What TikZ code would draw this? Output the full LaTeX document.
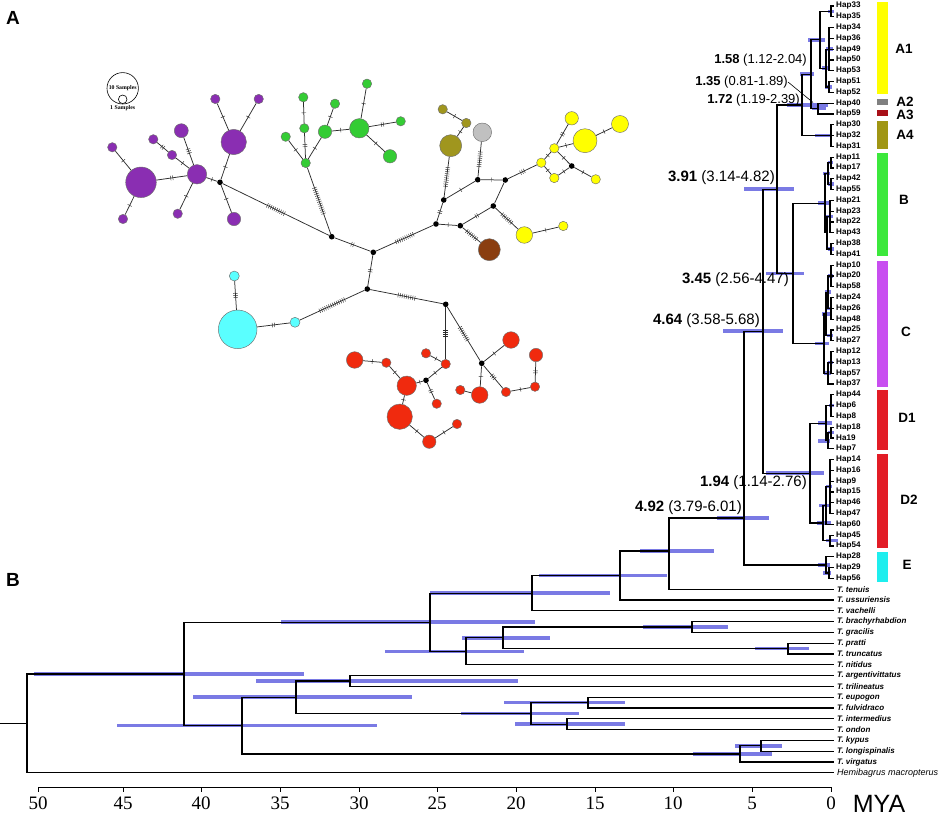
\documentclass[tikz,border=0pt]{standalone}
\usepackage{fontspec}
\setmainfont{Liberation Serif}
\newfontfamily\arial{Liberation Sans}
\usepackage{graphicx}
\usetikzlibrary{decorations.markings}
\definecolor{hpdblue}{RGB}{122,122,228}
\definecolor{npurple}{RGB}{138,46,178}
\definecolor{ngreen}{RGB}{52,204,52}
\definecolor{nolive}{RGB}{160,150,30}
\definecolor{ngray}{RGB}{192,192,192}
\definecolor{nbrown}{RGB}{138,62,16}
\definecolor{nyellow}{RGB}{255,255,0}
\definecolor{ncyan}{RGB}{90,255,255}
\definecolor{nred}{RGB}{240,42,14}
\definecolor{nborder}{RGB}{110,110,110}
\definecolor{nedgec}{RGB}{45,45,45}
\definecolor{kA1}{RGB}{255,255,0}
\definecolor{kA2}{RGB}{128,128,128}
\definecolor{kA3}{RGB}{168,16,24}
\definecolor{kA4}{RGB}{160,150,20}
\definecolor{kB}{RGB}{60,232,60}
\definecolor{kC}{RGB}{200,78,240}
\definecolor{kD}{RGB}{226,28,38}
\definecolor{kE}{RGB}{30,238,238}
\begin{document}
\begin{tikzpicture}[x=1pt,y=-1pt,
  br/.style={line width=1.2pt,black,line cap=rect},
  hpd/.style={line width=3.6pt,hpdblue},
  haptip/.style={anchor=west,inner xsep=3pt,inner ysep=0pt,font=\arial\bfseries\fontsize{8.1}{8.5}\selectfont},
  sptip/.style={anchor=west,inner xsep=4pt,inner ysep=0pt,font=\arial\bfseries\itshape\fontsize{8}{9}\selectfont},
  hpn/.style={circle,draw=nborder,line width=0.45pt,inner sep=0pt},
  mv/.style={circle,fill=black,inner sep=0pt,minimum size=5.6},
  nedge/.style={line width=0.75pt,nedgec},
  hatch/.style={postaction={decorate,decoration={markings,mark=at position 0.5 with {\foreach \k in {1,...,#1}{\draw[line width=0.45pt,nedgec] ({(\k-(#1+1)/2)*2.1},-2.3) -- ++(0,4.6);}}}}},
  dlabS/.style={anchor=east,inner sep=0pt,font=\arial\fontsize{13}{14}\selectfont},
  dlabL/.style={anchor=east,inner sep=0pt,font=\arial\fontsize{15}{16}\selectfont},
  cladelab/.style={inner sep=0pt,font=\arial\bfseries\fontsize{13.5}{14}\selectfont},
  panellab/.style={inner sep=0pt,font=\arial\bfseries\fontsize{19}{20}\selectfont},
  axlab/.style={inner sep=0pt,font=\fontsize{19}{20}\selectfont},
  legtxt/.style={inner sep=0pt,font=\bfseries\fontsize{5.8}{6}\selectfont}
]
\useasboundingbox (0,0) rectangle (941,819);

% ---------------- panel labels
\node[panellab] (pA) at (13,18) {A};
\node[panellab] (pB) at (13,580) {B};

% ---------------- tip labels
\foreach \nm [count=\i from 0] in {Hap33,Hap35,Hap34,Hap36,Hap49,Hap50,Hap53,Hap51,Hap52,Hap40,Hap59,Hap30,Hap32,Hap31,Hap11,Hap17,Hap42,Hap55,Hap21,Hap23,Hap22,Hap43,Hap38,Hap41,Hap10,Hap20,Hap58,Hap24,Hap26,Hap48,Hap25,Hap27,Hap12,Hap13,Hap57,Hap37,Hap44,Hap6,Hap8,Hap18,Ha19,Hap7,Hap14,Hap16,Hap9,Hap15,Hap46,Hap47,Hap60,Hap45,Hap54,Hap28,Hap29,Hap56}
  \node[haptip] (t\i) at (833,{6+10.8*\i}) {\nm};
\foreach \nm [count=\i from 54] in {tenuis,ussuriensis,vachelli,brachyrhabdion,gracilis,pratti,truncatus,nitidus,argentivittatus,trilineatus,eupogon,fulvidraco,intermedius,ondon,kypus,longispinalis,virgatus}
  \node[sptip] (t\i) at (833,{6+10.8*\i}) {T. \nm};
\node[sptip,font=\arial\itshape\fontsize{9}{10}\selectfont] (t71) at (833,772.8) {Hemibagrus macropterus};

% ---------------- internal nodes
\foreach \nm/\xx/\yy in {a33/831/11.4,aG1/829/49.2,aG2/829/87,aR/826/68.1,aA1/820/39.75,aA23/818/108.6,a811/811/74.2,aA4/831/135.6,a802/802/104.9,
 b1/831/162.6,b2/831/184.2,b12/828/173.4,b3/830/216.6,b4/831/249,b34/827/232.8,bB/825/203.1,
 c1/831/276,c2/831/308.4,c12/828/292.2,c3/831/335.4,c123/826/313.8,c4/831/362.4,c4b/828/373.2,cC/824/343.5,
 n793/793/273.3,n777/777/189.1,
 d1a/831/405.6,d1b/831/432.6,d1c/828/440.7,dD1/826/423.15,d2a/830/486.6,d2b/826/505.5,d2c/830/540.6,dD2/823/523.05,
 n810/810/473.1,n763/763/331.1,e1/829/573,eE/826/564.9,n744/744/518,n669/669/551,n620/620/575.5,n532/532/593.15,
 n692/692/627,n788/788/648.6,n503/503/637.8,n466/466/651.3,n430/430/622.25,
 n350/350/681,n588/588/702.6,n567/567/724.2,n531/531/713.4,n296/296/697.2,n761/761/745.8,n740/740/753.9,
 n242/242/725.55,n184/184/673.9,root/27/723.35,rstem/0/723.35}
  \coordinate (\nm) at (\xx,\yy);

% ---------------- HPD bars
\foreach \xa/\xb/\yy in {34/304/673.9,117/377/725.55,193/412/697.2,256/518/681,461/579/713.4,504/625/702.6,515/625/724.2,
 693/772/753.9,735/782/745.8,281/535/622.25,385/524/651.3,462/550/637.8,643/728/627,755/809/648.6,430/610/593.15,
 539/667/575.5,640/714/551,717/769/518,723/783/331.1,744/794/189.1,766/804/273.3,766/824/473.1,787/828/104.9,
 800/814/74.2,808/825/39.75,815/832/135.6,818/830/203.1,823/830/173.4,826/833/216.6,828/834/249,828/833/162.6,828/834/184.2,
 815/829/343.5,822/830/313.8,825/831/292.2,828/833/276,827/832/308.4,827/833/335.4,824/831/373.2,828/833/362.4,
 818/832/423.15,829/834/405.6,828/834/432.6,818/830/440.7,817/831/523.05,819/830/505.5,826/832/486.6,826/838/540.6,
 818/830/564.9,823/831/573,826/833/49.2,825/832/87,822/829/68.1,828/834/11.4,812/826/108.6}
  \draw[hpd] (\xa,\yy) -- (\xb,\yy);

% ---------------- branches
\foreach \p/\c in {a33/t0,a33/t1,aG1/t2,aG1/t3,aG1/t4,aG1/t5,aG1/t6,aG2/t7,aG2/t8,aR/aG1,aR/aG2,aA1/a33,aA1/aR,
 aA23/t9,aA23/t10,a811/aA1,a811/aA23,aA4/t11,aA4/t12,aA4/t13,a802/a811,a802/aA4,
 b1/t14,b1/t15,b2/t16,b2/t17,b12/b1,b12/b2,b3/t18,b3/t19,b3/t20,b3/t21,b4/t22,b4/t23,b34/b3,b34/b4,bB/b12,bB/b34,
 c1/t24,c1/t25,c1/t26,c2/t27,c2/t28,c2/t29,c12/c1,c12/c2,c3/t30,c3/t31,c123/c12,c123/c3,c4/t32,c4/t33,c4/t34,c4b/c4,c4b/t35,cC/c123,cC/c4b,
 n793/bB,n793/cC,n777/a802,n777/n793,
 d1a/t36,d1a/t37,d1a/t38,d1b/t39,d1b/t40,d1c/d1b,d1c/t41,dD1/d1a,dD1/d1c,
 d2a/t42,d2a/t43,d2a/t44,d2a/t45,d2a/t46,d2a/t47,d2b/d2a,d2b/t48,d2c/t49,d2c/t50,dD2/d2b,dD2/d2c,
 n810/dD1,n810/dD2,n763/n777,n763/n810,e1/t52,e1/t53,eE/t51,eE/e1,n744/n763,n744/eE,
 n669/n744,n669/t54,n620/n669,n620/t55,n532/n620,n532/t56,
 n692/t57,n692/t58,n788/t59,n788/t60,n503/n692,n503/n788,n466/n503,n466/t61,n430/n532,n430/n466,
 n350/t62,n350/t63,n588/t64,n588/t65,n567/t66,n567/t67,n531/n588,n531/n567,n296/n350,n296/n531,
 n761/t68,n761/t69,n740/n761,n740/t70,n242/n296,n242/n740,n184/n430,n184/n242,root/n184,root/t71}
  \draw[br] (\p) |- (\c);
\draw[br] (rstem) -- (root);

% ---------------- clade bars and labels
\foreach \nm/\ya/\yb/\cc in {A1/2/94/kA1,A2/99/105/kA2,A3/110/116/kA3,A4/121/149/kA4,B/153/256/kB,C/261/387/kC,D1/390/450/kD,D2/454/548/kD,E/552/582/kE}
  \fill[\cc] (877,\ya) rectangle (888,\yb);
\foreach \nm/\xx/\yy in {A1/904/49,A2/905/102,A3/905/115,A4/905/135,B/904/200,C/906/332,D1/907/418,D2/909/500,E/907/565}
  \node[cladelab] (lab\nm) at (\xx,\yy) {\nm};

% ---------------- node age labels
\node[dlabS] (l158) at (807,60) {\textbf{1.58} (1.12-2.04)};
\node[dlabS] (l135) at (788,82) {\textbf{1.35} (0.81-1.89)};
\node[dlabS] (l172) at (800,100) {\textbf{1.72} (1.19-2.39)};
\node[dlabL] (l391) at (775,178) {\textbf{3.91} (3.14-4.82)};
\node[dlabL] (l345) at (789,280) {\textbf{3.45} (2.56-4.47)};
\node[dlabL] (l464) at (760,320.7) {\textbf{4.64} (3.58-5.68)};
\node[dlabL] (l194) at (807,482.7) {\textbf{1.94} (1.14-2.76)};
\node[dlabL] (l492) at (742,508) {\textbf{4.92} (3.79-6.01)};
\coordinate (ldend) at (813,102.5);
\draw[line width=0.6pt] (l135.east) -- (ldend);

% ---------------- time axis
\coordinate (axa) at (38,787);
\coordinate (axb) at (831,787);
\draw[line width=1pt] (axa) -- (axb);
\foreach \v/\xx in {50/38,45/123,40/201,35/280,30/359,25/437,20/516,15/595,10/673,5/752,0/831}{
  \draw[line width=1pt] (\xx,787) -- (\xx,792);
  \node[axlab] (ax\v) at (\xx,803) {\v};
}
\node[inner sep=0pt,font=\arial\fontsize{25}{26}\selectfont] (mya) at (879,804) {MYA};

% ---------------- haplotype network: legend
\node[circle,draw=black,line width=0.6pt,inner sep=0pt,minimum size=31.4] (leg10) at (122.7,88.3) {};
\node[circle,draw=black,line width=0.6pt,inner sep=0pt,minimum size=8.6] (leg1) at (122.7,99.3) {};
\node[legtxt] (legt10) at (122.7,88.6) {10 Samples};
\node[legtxt] (legt1) at (122.7,108.6) {1 Samples};

% ---------------- network nodes
\foreach \nm/\xx/\yy/\dd/\cc in {
 P1/141/182.3/30.6/npurple,P2/112.3/147.3/9.4/npurple,P3/123/219/9.4/npurple,P4/153.3/139.3/9.4/npurple,
 P5/172/155/9.4/npurple,P6/181.3/130.7/14/npurple,P7/197/174.3/19.4/npurple,P8/177.7/213.7/9.4/npurple,
 P9/215.3/99/9.4/npurple,P10/258.7/99/9.4/npurple,P11/233.7/142/25.4/npurple,P12/234/219/13.4/npurple,
 G1/367/83.7/9.4/ngreen,G2/303.3/97.3/9.4/ngreen,G3/335/103.7/9.4/ngreen,G4/304.3/128.3/9.4/ngreen,
 G5/285.7/136.7/9.4/ngreen,G6/325/131.7/13.4/ngreen,G7/359.3/128.3/19.4/ngreen,G8/400.7/121.3/9.4/ngreen,
 G9/390/156.3/13.4/ngreen,G10/305.7/163/9.4/ngreen,
 O1/442.7/109.3/9.4/nolive,O2/466.3/123/9.4/nolive,O3/450.7/145.7/22/nolive,Gr/482.3/132.3/18.6/ngray,
 Bn/489.3/249.7/22/nbrown,
 Y1/524.3/235/16.6/nyellow,Y2/563.3/226/9.4/nyellow,Y3/541.3/162.7/9.4/nyellow,Y4/554.3/148.3/9.4/nyellow,
 Y5/554.3/178/9.4/nyellow,Y6/595.7/179.3/9.4/nyellow,Y7/571.7/118.3/13.4/nyellow,Y8/585/140.7/24/nyellow,
 Y9/620/124/17/nyellow,
 C1/295/322.3/10/ncyan,C2/237.7/329.3/38.6/ncyan,C3/234.3/276/10/ncyan,
 R1/445.7/364/9.4/nred,R2/426/353.3/9.4/nred,R3/406.7/385.7/19.4/nred,R4/436.7/403.7/9.4/nred,
 R5/386.3/362.7/9.4/nred,R6/354.7/360/16.6/nred,R7/399.7/416.7/25.4/nred,R8/429.3/441.7/13.4/nred,
 R9/457/424/9.4/nred,R10/511/340/16.6/nred,R11/479.7/395/16.6/nred,R12/460.3/390/9.4/nred,
 R13/506/392/9.4/nred,R14/535/386.7/9.4/nred,R15/536/355/13.4/nred}
  \node[hpn,fill=\cc,minimum size=\dd] (\nm) at (\xx,\yy) {};
\foreach \nm/\xx/\yy in {M1/220/182.3,M2/331.7/236.7,M3/373.3/252.3,M4/443.7/200,M5/477.7/179.7,M6/505.3/180,
 M7/436/224,M8/460.3/225.7,M9/493.3/206,M10/571.7/166,M11/367.3/289,M12/445.7/304.3,M13/426/380.3,M14/481.7/363.3}
  \node[mv] (\nm) at (\xx,\yy) {};

% ---------------- network edges
\foreach \a/\b/\n in {P1/P7/2,P1/P2/1,P1/P3/1,P4/P5/2,P5/P7/1,P6/P7/3,P7/P8/1,P7/M1/1,M1/P11/1,P11/P9/1,P11/P10/1,M1/P12/1,
 M1/M2/10,G10/M2/14,G2/G4/1,G4/G10/2,G5/G10/1,G6/G10/1,G3/G6/1,G6/G7/1,G7/G1/1,G7/G8/2,G7/G9/1,M2/M3/2,M3/M7/10,
 O1/O2/1,O2/O3/1,O3/M4/10,Gr/M5/8,M4/M5/1,M5/M6/1,M4/M7/2,M7/M8/1,M8/M9/2,M8/Bn/7,M9/Y1/7,Y1/Y2/1,M6/Y3/3,
 Y3/Y4/1,Y3/Y5/1,Y5/M10/1,Y4/M10/1,M10/Y6/1,Y4/Y7/2,Y4/Y8/1,Y8/Y9/1,
 M3/M11/2,M11/M12/9,M11/C1/14,C1/C2/2,C3/C2/3,M12/R1/4,R2/R1/1,R1/M13/1,M13/R3/1,M13/R4/2,R5/R3/1,R6/R5/1,
 R3/R7/1,R7/R8/1,R8/R9/1,M12/M14/8,M14/R10/1,M14/R11/1,M14/R13/3,R13/R14/1,R14/R15/2}
  \draw[nedge,hatch=\n] (\a) -- (\b);
\draw[nedge] (M9) -- (M6);
\draw[nedge] (R12) -- (R11);
\end{tikzpicture}
\end{document}
